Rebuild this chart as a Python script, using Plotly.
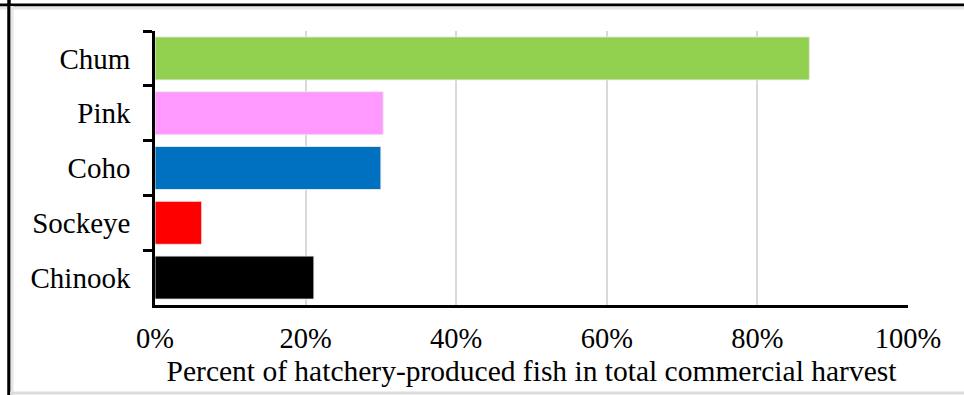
import plotly.graph_objects as go

# Share of hatchery-produced fish in the total commercial harvest, by species
species = ["Chum", "Pink", "Coho", "Sockeye", "Chinook"]
hatchery_share = [0.869, 0.303, 0.300, 0.062, 0.211]
bar_colors = ["#92D050", "#FF99FF", "#0070C0", "#FF0000", "#000000"]
x_ticks = [0, 0.2, 0.4, 0.6, 0.8, 1.0]
x_tick_text = ["0%", "20%", "40%", "60%", "80%", "100%"]

W, H = 964, 395
M_L, M_R, M_T, M_B = 155, 56, 31, 90
PW, PH = W - M_L - M_R, H - M_T - M_B


def px_x(px):
    return (px - M_L) / PW


def px_y(py):
    return (H - M_B - py) / PH


font = dict(family="Liberation Serif, Times New Roman, serif", color="#000000")

fig = go.Figure(
    go.Bar(
        x=hatchery_share,
        y=species,
        orientation="h",
        marker=dict(color=bar_colors, line=dict(color="rgba(235,235,235,0.9)", width=1)),
        hoverinfo="x+y",
    )
)

fig.update_layout(
    width=W,
    height=H,
    margin=dict(l=M_L, r=M_R, t=M_T, b=M_B, pad=0),
    paper_bgcolor="white",
    plot_bgcolor="white",
    bargap=0.215,
    showlegend=False,
    font=dict(size=29, **font),
)

fig.update_xaxes(
    range=[0, 1],
    tickvals=x_ticks,
    ticktext=x_tick_text,
    tickfont=dict(size=28.5, **font),
    ticks="",
    ticklabelstandoff=6,
    showgrid=True,
    gridcolor="#D9D9D9",
    gridwidth=2,
    zeroline=False,
    showline=True,
    linecolor="#000000",
    linewidth=2.5,
    title=dict(
        text="Percent of hatchery-produced fish in total commercial harvest",
        font=dict(size=29.5, **font),
        standoff=8,
    ),
)

fig.update_yaxes(
    autorange="reversed",
    tickfont=dict(size=29, **font),
    ticks="outside",
    tickson="boundaries",
    ticklen=9,
    tickwidth=2.5,
    tickcolor="#000000",
    ticklabelstandoff=16,
    showgrid=False,
    showline=True,
    linecolor="#000000",
    linewidth=2.5,
)

# Outer frame with a soft grey inner edge
frame = [
    (px_x(0), px_y(5), px_x(W), px_y(5), "#000000", 3),
    (px_x(0), px_y(8), px_x(W), px_y(8), "#E6E6E6", 3),
    (px_x(9), px_y(0), px_x(9), px_y(H), "#000000", 3.5),
    (px_x(12), px_y(6), px_x(12), px_y(H), "#E6E6E6", 3),
    (px_x(10), px_y(393), px_x(W), px_y(393), "#DCDCDC", 3),
]
for x0, y0, x1, y1, c, w in frame:
    fig.add_shape(
        type="line", xref="paper", yref="paper",
        x0=x0, y0=y0, x1=x1, y1=y1,
        line=dict(color=c, width=w), layer="above",
    )

fig.write_html("out.html")
